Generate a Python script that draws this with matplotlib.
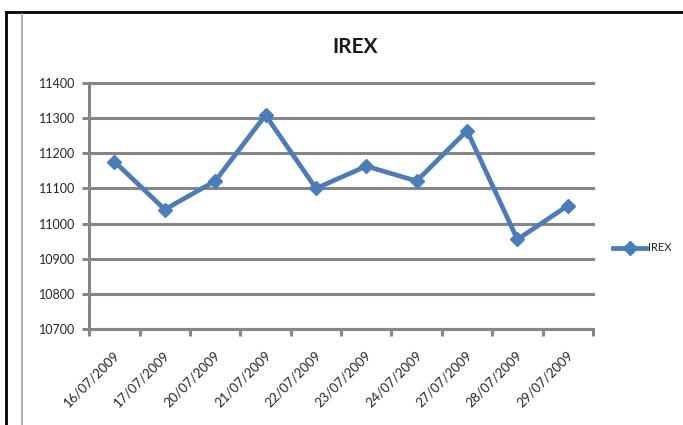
import matplotlib
matplotlib.use("Agg")
import matplotlib.pyplot as plt
from matplotlib.lines import Line2D
from matplotlib.transforms import ScaledTranslation

dates = ["16/07/2009", "17/07/2009", "20/07/2009", "21/07/2009", "22/07/2009",
         "23/07/2009", "24/07/2009", "27/07/2009", "28/07/2009", "29/07/2009"]
irex = [11176, 11040, 11121, 11308, 11100, 11163, 11121, 11264, 10955, 11051]
y_ticks = [10700, 10800, 10900, 11000, 11100, 11200, 11300, 11400]

blue = "#4a7ebb"
grey = "#868686"
txt = "#262626"

plt.rcParams['font.family'] = ['Lato', 'DejaVu Sans']

fig = plt.figure(figsize=(6.83, 4.25), dpi=100)
ax = fig.add_axes([0.1307, 0.2252, 0.7375, 0.5802])

x = list(range(len(dates)))
ax.plot(x, irex, color=blue, lw=3.4, marker='D', markersize=7, label='IREX')

ax.set_xlim(-0.5, len(dates) - 0.5)
ax.set_ylim(y_ticks[0], y_ticks[-1])
ax.set_yticks(y_ticks)
ax.set_yticklabels([str(v) for v in y_ticks])

# ticks on category boundaries, labels at centres
ax.set_xticks([i - 0.5 for i in range(len(dates) + 1)])
ax.set_xticklabels([])
ax.set_xticks(x, minor=True)
ax.set_xticklabels(dates, minor=True, rotation=45, ha='right', va='center',
                   rotation_mode='anchor', fontsize=9.5, color=txt)
ax.tick_params(axis='x', which='minor', length=0, pad=17)
off = ScaledTranslation(0.03, 0, fig.dpi_scale_trans)
for lab in ax.get_xticklabels(minor=True):
    lab.set_transform(lab.get_transform() + off)

ax.tick_params(axis='both', which='major', length=5, width=2.2, color=grey,
               direction='out', labelsize=9, labelcolor=txt)
ax.tick_params(axis='y', pad=5)

ax.yaxis.grid(True, color=grey, lw=2.2)
ax.set_axisbelow(True)
for gl in ax.get_ygridlines():
    gl.set_clip_on(False)

for s in ['top', 'right']:
    ax.spines[s].set_visible(False)
for s in ['left', 'bottom']:
    ax.spines[s].set_color(grey)
    ax.spines[s].set_linewidth(2.2)

fig.text(0.52, 0.889, "IREX", ha='center', va='center', fontsize=15,
         fontweight='bold', color='#1a1a1a')

ax.legend(loc='center left', bbox_to_anchor=(1.04, 0.33), frameon=False,
          handlelength=3.0, handletextpad=0.15, borderpad=0, borderaxespad=0,
          numpoints=1, fontsize=8, labelcolor=txt)

# outer frame of the embedded chart
top = 1 - 12 / 425
fig.add_artist(Line2D([6 / 683, 6 / 683], [0, top], color='black', lw=2,
                      transform=fig.transFigure))
fig.add_artist(Line2D([6 / 683, 1], [top, top], color='black', lw=2,
                      transform=fig.transFigure))
fig.add_artist(Line2D([22 / 683, 22 / 683], [0, top - 0.005], color='#a0a0a0',
                      lw=1.2, transform=fig.transFigure))

fig.savefig("out.png", dpi=100)
